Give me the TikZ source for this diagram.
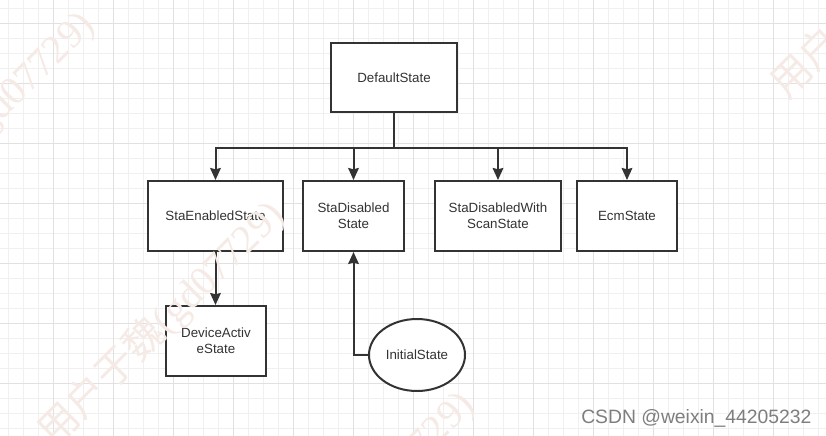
\documentclass[tikz,border=0pt]{standalone}
\usepackage{fontspec}
\setmainfont{Liberation Sans}
\newfontfamily\wmcjk{Noto Sans CJK SC}
\newfontfamily\wmlat{Liberation Serif}
\usetikzlibrary{arrows.meta,shapes.geometric}
\definecolor{gridminor}{HTML}{F0F0F0}
\definecolor{gridmajor}{HTML}{E1E1E1}
\definecolor{ink}{HTML}{333333}
\definecolor{wmcol}{HTML}{F5EAE5}
\definecolor{csdn}{HTML}{7E7E7E}
\tikzset{
  minorline/.style={gridminor, line width=0.75pt},
  majorline/.style={gridmajor, line width=0.75pt},
  statebox/.style={draw=ink, line width=1.5pt, fill=white, rectangle,
    inner sep=0pt, text=ink, align=center,
    font=\fontsize{10pt}{12pt}\selectfont},
  stateell/.style={draw=ink, line width=1.5pt, fill=white, ellipse,
    inner sep=0pt, text=ink, align=center,
    font=\fontsize{10pt}{12pt}\selectfont},
  conn/.style={draw=ink, line width=1.5pt,
    -{Stealth[length=9pt,width=8pt,inset=1pt]}},
  wm/.style={text=wmcol, inner sep=0pt, anchor=base west, rotate=45,
    font=\fontsize{30pt}{30pt}\selectfont},
}
\begin{document}
\begin{tikzpicture}[x=0.75pt, y=-0.75pt]
\useasboundingbox (0,0) rectangle (826,436);
\fill[white] (0,0) rectangle (826,436);
% grid
\foreach \x in {8,23,...,818} \draw[minorline] (\x,0) -- (\x,436);
\foreach \y in {8,23,...,428} \draw[minorline] (0,\y) -- (826,\y);
\foreach \x in {53,113,...,773} \draw[majorline] (\x,0) -- (\x,436);
\foreach \y in {23,83,...,383} \draw[majorline] (0,\y) -- (826,\y);

% nodes
\node[statebox, minimum width=94.5pt, minimum height=51.75pt] (def) at (394,77.5) {DefaultState};
\node[statebox, minimum width=101.25pt, minimum height=52.5pt] (sen) at (215.5,216) {StaEnabledState};
\node[statebox, minimum width=75.75pt, minimum height=52.5pt] (sdis) at (353.5,216) {StaDisabled\\State};
\node[statebox, minimum width=94.5pt, minimum height=52.5pt] (sdws) at (498,216) {StaDisabledWith\\ScanState};
\node[statebox, minimum width=75pt, minimum height=52.5pt] (ecm) at (627,216) {EcmState};
\node[statebox, minimum width=75pt, minimum height=52.5pt] (dev) at (216,341) {DeviceActiv\\eState};
\node[stateell, minimum width=72pt, minimum height=54pt] (init) at (417,355) {InitialState};

% connectors
\coordinate (bus) at (394,148);
\draw[conn] (def.south) -- (bus) -| (sen.north);
\draw[conn] (def.south) -- (bus) -| (sdis.north);
\draw[conn] (def.south) -- (bus) -| (sdws.north);
\draw[conn] (def.south) -- (bus) -| (ecm.north);
\draw[conn] (sen.south) -- (sen.south |- dev.north);
\draw[conn] (init.west) -| (sdis.south);

% watermarks
\node[wm] (wm1) at (54.5,448.5) {{\wmcjk 用户于魏}{\wmlat (gd07729)}};
\node[wm] (wm2) at (-135.5,258.5) {{\wmcjk 用户于魏}{\wmlat (gd07729)}};
\node[wm] (wm3) at (244.5,638.5) {{\wmcjk 用户于魏}{\wmlat (gd07729)}};
\node[wm] (wm4) at (787.5,100.5) {{\wmcjk 用户于魏}{\wmlat (gd07729)}};

% footer
\node[text=csdn, inner sep=0pt, anchor=base west, font=\fontsize{14.5pt}{16pt}\selectfont] (csdn) at (581,423) {CSDN @weixin\_44205232};
\end{tikzpicture}
\end{document}
